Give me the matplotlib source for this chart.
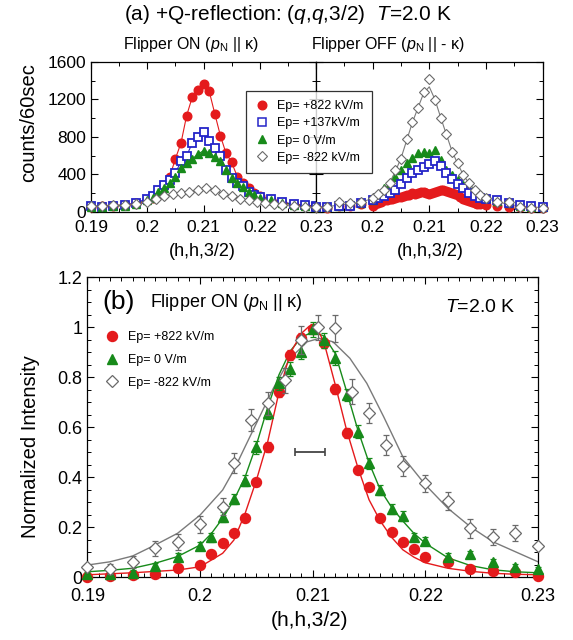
import matplotlib
matplotlib.use("Agg")
import matplotlib.pyplot as plt
from matplotlib.lines import Line2D
from matplotlib.ticker import MultipleLocator, FixedLocator

plt.rcParams['font.family'] = ['Liberation Sans', 'DejaVu Sans']
plt.rcParams['mathtext.fontset'] = 'custom'
plt.rcParams['mathtext.rm'] = 'Liberation Sans'
plt.rcParams['mathtext.it'] = 'Liberation Sans:italic'

# ---------------- data: panel (a) ----------------
h_main = [0.190, 0.192, 0.194, 0.196, 0.198,
          0.200, 0.201, 0.202, 0.203, 0.204, 0.205, 0.206, 0.207, 0.208, 0.209, 0.210,
          0.211, 0.212, 0.213, 0.214, 0.215, 0.216, 0.217, 0.218, 0.219, 0.220,
          0.222, 0.224, 0.226, 0.228, 0.230]

on_p822 = [55, 60, 65, 75, 90, 120, 150, 200, 270, 375, 565, 735, 1027, 1224, 1302, 1363,
           1291, 1049, 813, 625, 529, 375, 304, 250, 205, 170, 125, 95, 75, 65, 60]
on_p137 = [60, 55, 60, 70, 95, 140, 171, 232, 286, 339, 410, 540, 595, 735, 803, 850,
           760, 685, 596, 446, 364, 304, 275, 214, 179, 160, 136, 107, 79, 70, 60]
on_0 = [55, 55, 60, 65, 85, 120, 150, 214, 250, 304, 375, 464, 518, 564, 614, 653,
        631, 582, 542, 446, 364, 304, 268, 214, 179, 150, 120, 95, 75, 65, 60]

h_diam_on = [0.190, 0.192, 0.194, 0.196, 0.198, 0.200, 0.2015, 0.203, 0.2045, 0.206,
             0.2075, 0.209, 0.2105, 0.212, 0.2135, 0.215, 0.2165, 0.218, 0.2195, 0.221,
             0.2225, 0.224, 0.226, 0.228, 0.230]
on_m822 = [60, 65, 70, 72, 85, 100, 135, 165, 185, 200, 215, 235, 250, 232, 190, 168,
           133, 125, 107, 90, 80, 70, 60, 55, 50]

off_m822 = [54, 54, 100, 89, 107, 143, 186, 232, 304, 445, 565, 775, 960, 1106, 1284, 1420,
            1190, 1000, 835, 642, 518, 393, 304, 232, 179, 143, 107, 107, 54, 45, 43]
off_m822_fit = [50, 55, 70, 85, 105, 140, 185, 235, 310, 430, 570, 760, 950, 1110, 1265, 1335,
                1200, 1010, 830, 650, 515, 395, 305, 235, 180, 145, 105, 80, 60, 50, 45]
off_p137 = [50, 55, 60, 65, 90, 125, 145, 165, 200, 235, 300, 355, 410, 445, 475, 505,
            540, 490, 410, 345, 295, 250, 200, 165, 150, 140, 120, 90, 70, 60, 55]
off_0 = [50, 50, 65, 70, 90, 130, 180, 250, 300, 375, 446, 518, 571, 631, 642, 631,
         660, 553, 446, 393, 339, 286, 240, 197, 165, 145, 110, 90, 65, 55, 50]

h_red_off = [0.190, 0.192, 0.194, 0.196, 0.198,
             0.2000, 0.2005, 0.2010, 0.2015, 0.2020, 0.2025, 0.2030, 0.2035, 0.2040, 0.2045,
             0.2050, 0.2055, 0.2060, 0.2065, 0.2070, 0.2075, 0.2080, 0.2085, 0.2090, 0.2095,
             0.2100, 0.2105, 0.2110, 0.2115, 0.2120, 0.2125, 0.2130, 0.2135, 0.2140, 0.2145,
             0.2150, 0.2155, 0.2160, 0.2165, 0.2170, 0.2175, 0.2180, 0.2185, 0.2190,
             0.220, 0.222, 0.224, 0.226, 0.228, 0.230]
off_p822 = [50, 45, 60, 65, 80,
            60, 85, 95, 105, 120, 125, 135, 140, 150, 155,
            160, 165, 175, 180, 195, 190, 205, 210, 215, 200,
            190, 195, 210, 225, 235, 230, 225, 215, 200, 185,
            175, 160, 140, 125, 110, 100, 95, 85, 80,
            70, 65, 55, 50, 45, 45]

# ---------------- data: panel (b) ----------------
h_b = [0.190, 0.192, 0.194, 0.196, 0.198, 0.200, 0.201, 0.202, 0.203, 0.204, 0.205,
       0.206, 0.207, 0.208, 0.209, 0.210, 0.211, 0.212, 0.213, 0.214, 0.215, 0.216,
       0.217, 0.218, 0.219, 0.220, 0.222, 0.224, 0.226, 0.228, 0.230]
b_p822 = [0.000, 0.005, 0.009, 0.013, 0.038, 0.049, 0.093, 0.136, 0.176, 0.236, 0.380,
          0.520, 0.740, 0.889, 0.956, 0.992, 0.936, 0.753, 0.576, 0.429, 0.362, 0.236,
          0.180, 0.140, 0.113, 0.083, 0.062, 0.033, 0.027, 0.023, 0.005]
b_p822_err = [0.005, 0.005, 0.005, 0.006, 0.008, 0.008, 0.01, 0.01, 0.01, 0.012, 0.015,
              0.02, 0.02, 0.02, 0.02, 0.02, 0.02, 0.02, 0.02, 0.015, 0.012, 0.01,
              0.01, 0.01, 0.008, 0.008, 0.008, 0.006, 0.006, 0.005, 0.005]
b_0 = [0.013, 0.012, 0.019, 0.045, 0.083, 0.125, 0.160, 0.240, 0.312, 0.387, 0.520,
       0.659, 0.776, 0.832, 0.903, 0.992, 0.949, 0.876, 0.729, 0.583, 0.456, 0.349,
       0.272, 0.245, 0.160, 0.146, 0.083, 0.093, 0.062, 0.042, 0.033]
b_0_err = [0.008, 0.008, 0.01, 0.012, 0.014, 0.016, 0.018, 0.02, 0.02, 0.022, 0.025,
           0.025, 0.025, 0.028, 0.03, 0.03, 0.03, 0.028, 0.025, 0.025, 0.022, 0.02,
           0.02, 0.02, 0.016, 0.016, 0.014, 0.012, 0.012, 0.01, 0.01]
h_b_diam = [0.190, 0.192, 0.194, 0.196, 0.198, 0.200, 0.202, 0.203, 0.2045, 0.206,
            0.2075, 0.209, 0.2105, 0.212, 0.2135, 0.215, 0.2165, 0.218, 0.220, 0.222,
            0.224, 0.226, 0.228, 0.230]
b_m822 = [0.043, 0.033, 0.062, 0.116, 0.140, 0.212, 0.283, 0.459, 0.630, 0.696, 0.789,
          0.949, 1.000, 0.996, 0.742, 0.659, 0.528, 0.445, 0.376, 0.305, 0.196, 0.163,
          0.179, 0.125]
b_m822_err = [0.005, 0.02, 0.025, 0.03, 0.032, 0.035, 0.035, 0.04, 0.045, 0.045, 0.05,
              0.055, 0.05, 0.055, 0.05, 0.04, 0.04, 0.04, 0.035, 0.037, 0.037, 0.032,
              0.032, 0.005]

fit_h_red = [0.190, 0.194, 0.198, 0.200, 0.202, 0.203, 0.204, 0.205, 0.206, 0.207,
             0.208, 0.209, 0.2097, 0.2105, 0.211, 0.212, 0.213, 0.214, 0.215, 0.216,
             0.217, 0.218, 0.219, 0.220, 0.222, 0.224, 0.226, 0.228, 0.230]
fit_red = [0.010, 0.018, 0.029, 0.042, 0.096, 0.149, 0.256, 0.389, 0.542, 0.740,
           0.896, 0.976, 1.005, 0.985, 0.940, 0.770, 0.590, 0.440, 0.310, 0.225,
           0.160, 0.110, 0.080, 0.058, 0.036, 0.024, 0.016, 0.012, 0.010]
fit_h_green = [0.190, 0.192, 0.194, 0.196, 0.198, 0.200, 0.201, 0.202, 0.203, 0.204,
               0.205, 0.206, 0.207, 0.208, 0.209, 0.210, 0.211, 0.212, 0.213, 0.214,
               0.215, 0.216, 0.217, 0.218, 0.219, 0.220, 0.222, 0.224, 0.226, 0.228, 0.230]
fit_green = [0.022, 0.028, 0.036, 0.056, 0.083, 0.129, 0.175, 0.236, 0.309, 0.402,
             0.530, 0.680, 0.810, 0.905, 0.960, 0.982, 0.965, 0.895, 0.745, 0.590,
             0.458, 0.350, 0.280, 0.225, 0.175, 0.136, 0.078, 0.047, 0.030, 0.022, 0.018]
fit_h_grey = [0.190, 0.192, 0.194, 0.196, 0.198, 0.200, 0.202, 0.203, 0.204, 0.205,
              0.2065, 0.208, 0.2095, 0.2106, 0.2118, 0.2133, 0.2148, 0.2163, 0.218,
              0.220, 0.222, 0.224, 0.226, 0.228, 0.230]
fit_grey = [0.049, 0.062, 0.085, 0.129, 0.176, 0.249, 0.349, 0.429, 0.523, 0.616,
            0.756, 0.876, 0.942, 0.956, 0.942, 0.876, 0.776, 0.642, 0.482,
            0.370, 0.276, 0.202, 0.142, 0.102, 0.062]

res_center = 0.20975
res_halfwidth = 0.00135
res_level = 0.5

xticks_top = [0.19, 0.20, 0.21, 0.22, 0.23]
xticklabels_left = ['0.19', '0.2', '0.21', '0.22', '0.23']
xticklabels_right = ['', '0.2', '0.21', '0.22', '0.23']
yticks_top = [0, 400, 800, 1200, 1600]
yticks_b = [0, 0.2, 0.4, 0.6, 0.8, 1.0, 1.2]
yticklabels_b = ['0', '0.2', '0.4', '0.6', '0.8', '1', '1.2']

labels_a = ['Ep= +822 kV/m', 'Ep= +137kV/m', 'Ep= 0 V/m', 'Ep= -822 kV/m']
labels_b = ['Ep= +822 kV/m', 'Ep= 0 V/m', 'Ep= -822 kV/m']

# ---------------- styles ----------------
RED = '#e41a1c'
BLUE = '#2424c8'
GREEN = '#178a1a'
GREY = '#6a6a6a'
GREYLINE = '#7a7a7a'

fig = plt.figure(figsize=(5.73, 6.4), dpi=100)
ax1 = fig.add_axes([0.1588, 0.6692, 0.3927, 0.2339])
ax2 = fig.add_axes([0.5515, 0.6692, 0.3953, 0.2339])
ax3 = fig.add_axes([0.1527, 0.0980, 0.7862, 0.4687])


def style_axis(ax, fs):
    ax.tick_params(which='both', direction='in', top=True, right=True, labelsize=fs)
    ax.tick_params(which='major', length=5, width=0.8)
    ax.tick_params(which='minor', length=3, width=0.7)
    for s in ax.spines.values():
        s.set_linewidth(0.9)


# ---- panel (a) left: flipper ON ----
kw = dict(clip_on=False)
ax1.plot(h_main, on_p822, '-', color=RED, lw=0.8, zorder=2)
ax1.plot(h_main, on_p137, '-', color=BLUE, lw=0.8, zorder=2)
ax1.plot(h_main, on_0, '-', color=GREEN, lw=0.8, zorder=2)
ax1.plot(h_diam_on, on_m822, '-', color=GREYLINE, lw=0.8, zorder=2)
ax1.plot(h_main, on_p822, 'o', ms=6.2, mfc=RED, mec=RED, zorder=3, **kw)
ax1.plot(h_main, on_p137, 's', ms=5.8, mfc='white', mec=BLUE, mew=1.3, zorder=4, **kw)
ax1.plot(h_main, on_0, '^', ms=6.2, mfc=GREEN, mec=GREEN, zorder=5, **kw)
ax1.plot(h_diam_on, on_m822, 'D', ms=5.2, mfc='white', mec=GREY, mew=0.8, zorder=6, **kw)

# ---- panel (a) right: flipper OFF ----
ax2.plot(h_main, off_m822_fit, '-', color=GREYLINE, lw=0.8, zorder=2)
ax2.plot(h_red_off, off_p822, 'o', ms=6.2, mfc=RED, mec=RED, zorder=3, **kw)
ax2.plot(h_main, off_0, '^', ms=6.2, mfc=GREEN, mec=GREEN, zorder=4, **kw)
ax2.plot(h_main, off_p137, 's', ms=5.8, mfc='white', mec=BLUE, mew=1.3, zorder=5, **kw)
ax2.plot(h_main, off_m822, 'D', ms=5.2, mfc='white', mec=GREY, mew=0.8, zorder=6, **kw)

for ax, lab in ((ax1, xticklabels_left), (ax2, xticklabels_right)):
    ax.set_xlim(0.19, 0.23)
    ax.set_ylim(0, 1600)
    ax.xaxis.set_major_locator(FixedLocator(xticks_top))
    ax.set_xticklabels(lab)
    ax.xaxis.set_minor_locator(MultipleLocator(0.005))
    ax.yaxis.set_major_locator(FixedLocator(yticks_top))
    ax.yaxis.set_minor_locator(MultipleLocator(200))
    style_axis(ax, 12.5)
    ax.tick_params(axis='x', pad=6)
ax1.set_yticklabels([str(v) for v in yticks_top])
ax2.set_yticklabels([])

handles_a = [
    Line2D([], [], ls='none', marker='o', ms=6.2, mfc=RED, mec=RED),
    Line2D([], [], ls='none', marker='s', ms=5.8, mfc='white', mec=BLUE, mew=1.1),
    Line2D([], [], ls='none', marker='^', ms=6.2, mfc=GREEN, mec=GREEN),
    Line2D([], [], ls='none', marker='D', ms=5.2, mfc='white', mec=GREY, mew=0.8),
]
leg_a = fig.legend(handles_a, labels_a, loc='upper left', bbox_to_anchor=(0.4293, 0.8583),
                   fontsize=9, frameon=True, fancybox=False, borderaxespad=0,
                   handlelength=1.0, handletextpad=0.7, labelspacing=0.42, borderpad=0.75)
leg_a.get_frame().set_edgecolor('black')
leg_a.get_frame().set_linewidth(0.9)
leg_a.set_zorder(20)

fig.text(0.5017, 0.9766, r'(a) +Q-reflection: ($q$,$q$,3/2)  $T$=2.0 K',
         ha='center', va='center', fontsize=15)
fig.text(0.3333, 0.9297, r'Flipper ON ($p_{\mathrm{N}}$ || κ)', ha='center', va='center', fontsize=11.5)
fig.text(0.677, 0.9297, r'Flipper OFF ($p_{\mathrm{N}}$ || - κ)', ha='center', va='center', fontsize=11.5)
fig.text(0.0497, 0.808, 'counts/60sec', rotation=90, ha='center', va='center', fontsize=14.5)
fig.text(0.3525, 0.6078, '(h,h,3/2)', ha='center', va='center', fontsize=13)
fig.text(0.7504, 0.6078, '(h,h,3/2)', ha='center', va='center', fontsize=13)

# ---- panel (b) ----
ax3.plot(fit_h_grey, fit_grey, '-', color=GREYLINE, lw=1.0, zorder=2)
ax3.plot(fit_h_green, fit_green, '-', color=GREEN, lw=1.0, zorder=2)
ax3.plot(fit_h_red, fit_red, '-', color=RED, lw=1.0, zorder=2)
ax3.errorbar(h_b, b_p822, yerr=b_p822_err, fmt='o', ms=7.2, mfc=RED, mec=RED, ecolor=RED,
             elinewidth=0.9, capsize=2.2, capthick=0.9, zorder=3, clip_on=False)
ax3.errorbar(h_b, b_0, yerr=b_0_err, fmt='^', ms=7.0, mfc=GREEN, mec=GREEN, ecolor=GREEN,
             elinewidth=0.9, capsize=2.2, capthick=0.9, zorder=4, clip_on=False)
ax3.errorbar(h_b_diam, b_m822, yerr=b_m822_err, fmt='D', ms=6.2, mfc='white', mec=GREY,
             mew=0.9, ecolor=GREY, elinewidth=0.9, capsize=2.2, capthick=0.9, zorder=5,
             clip_on=False)
ax3.errorbar([res_center], [res_level], xerr=[res_halfwidth], fmt='none', ecolor='#444444',
             elinewidth=1.3, capsize=3, capthick=1.2, zorder=3)

ax3.set_xlim(0.19, 0.23)
ax3.set_ylim(0, 1.2)
ax3.xaxis.set_major_locator(FixedLocator(xticks_top))
ax3.set_xticklabels(xticklabels_left)
ax3.xaxis.set_minor_locator(MultipleLocator(0.001))
ax3.yaxis.set_major_locator(FixedLocator(yticks_b))
ax3.set_yticklabels(yticklabels_b)
ax3.yaxis.set_minor_locator(MultipleLocator(0.05))
style_axis(ax3, 13)
ax3.tick_params(axis='x', pad=7.5)

handles_b = [
    Line2D([], [], ls='none', marker='o', ms=7.2, mfc=RED, mec=RED),
    Line2D([], [], ls='none', marker='^', ms=7.0, mfc=GREEN, mec=GREEN),
    Line2D([], [], ls='none', marker='D', ms=6.2, mfc='white', mec=GREY, mew=0.9),
]
ax3.legend(handles_b, labels_b, loc='upper left', bbox_to_anchor=(0.04, 0.82),
           fontsize=9, frameon=False, borderaxespad=0, borderpad=0,
           handlelength=1.0, handletextpad=0.8, labelspacing=0.85)

fig.text(0.2077, 0.5286, '(b)', ha='center', va='center', fontsize=19)
fig.text(0.3956, 0.5281, r'Flipper ON ($p_{\mathrm{N}}$ || κ)', ha='center', va='center', fontsize=13)
fig.text(0.8377, 0.519, r'$T$=2.0 K', ha='center', va='center', fontsize=14)
fig.text(0.054, 0.3016, 'Normalized Intensity', rotation=90, ha='center', va='center', fontsize=14.5)
fig.text(0.541, 0.03125, '(h,h,3/2)', ha='center', va='center', fontsize=15)

fig.savefig('out.png', dpi=100)
